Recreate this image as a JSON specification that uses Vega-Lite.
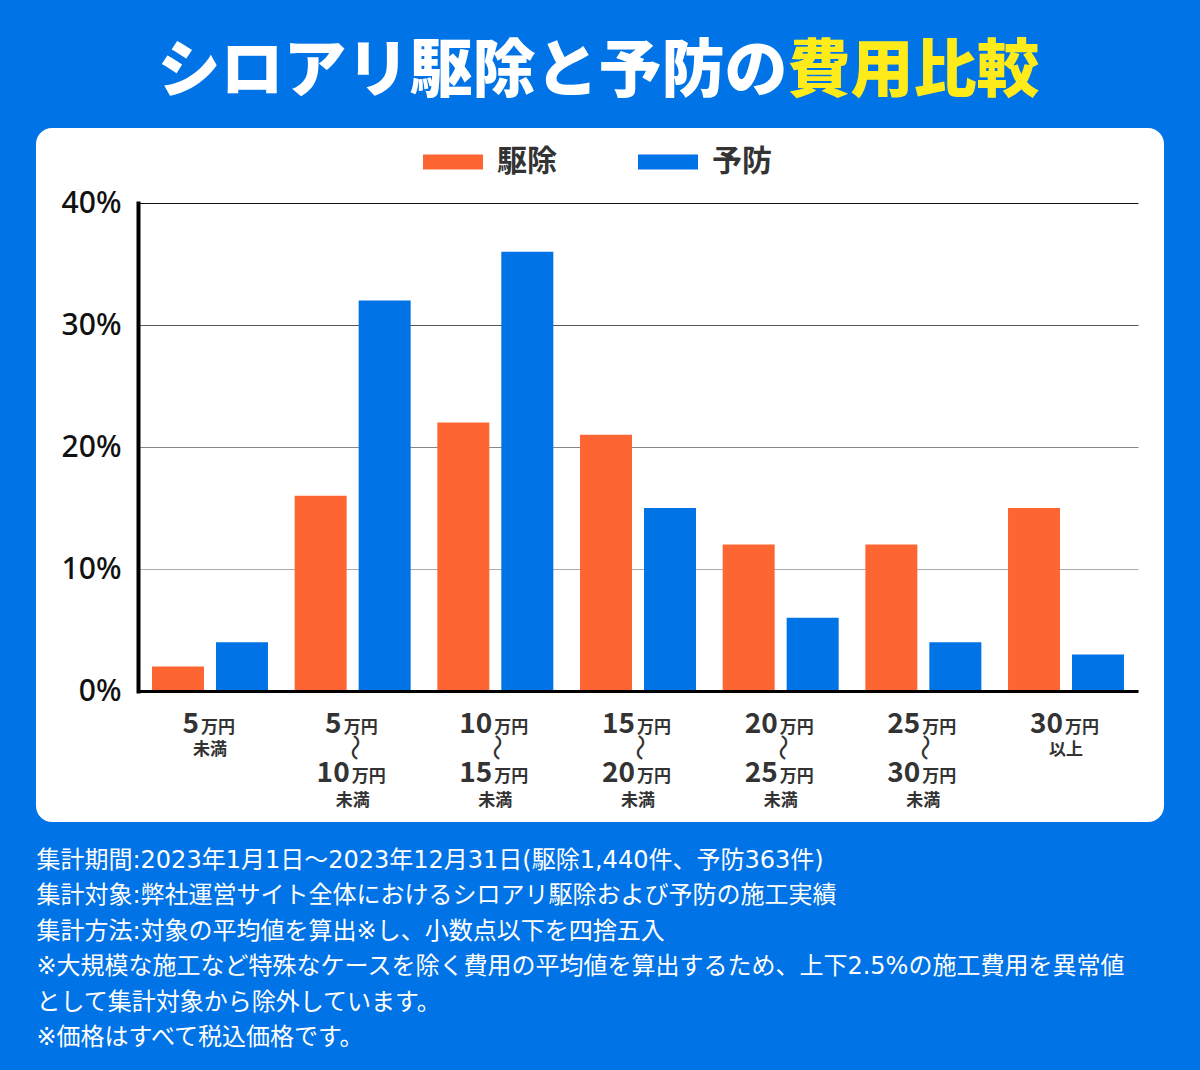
{
  "$schema": "https://vega.github.io/schema/vega-lite/v6.json",
  "width": 1128,
  "height": 694,
  "autosize": {"type": "none"},
  "padding": {"left": 36, "top": 128, "right": 36, "bottom": 248},
  "background": "#0073E6",
  "view": {"fill": "white", "stroke": null, "cornerRadius": 16},
  "data": {
    "values": [
      {"range": "5万円未満", "type": "駆除", "value": 2},
      {"range": "5万円未満", "type": "予防", "value": 4},
      {"range": "5万円〜10万円未満", "type": "駆除", "value": 16},
      {"range": "5万円〜10万円未満", "type": "予防", "value": 32},
      {"range": "10万円〜15万円未満", "type": "駆除", "value": 22},
      {"range": "10万円〜15万円未満", "type": "予防", "value": 36},
      {"range": "15万円〜20万円未満", "type": "駆除", "value": 21},
      {"range": "15万円〜20万円未満", "type": "予防", "value": 15},
      {"range": "20万円〜25万円未満", "type": "駆除", "value": 12},
      {"range": "20万円〜25万円未満", "type": "予防", "value": 6},
      {"range": "25万円〜30万円未満", "type": "駆除", "value": 12},
      {"range": "25万円〜30万円未満", "type": "予防", "value": 4},
      {"range": "30万円以上", "type": "駆除", "value": 15},
      {"range": "30万円以上", "type": "予防", "value": 3}
    ]
  },
  "layer": [
    {
      "mark": {"type": "bar"},
      "encoding": {
        "x": {
          "field": "range", "type": "nominal",
          "sort": ["5万円未満","5万円〜10万円未満","10万円〜15万円未満","15万円〜20万円未満","20万円〜25万円未満","25万円〜30万円未満","30万円以上"],
          "scale": {"type": "band", "range": [102, 1102], "paddingInner": 0.187, "paddingOuter": 0.098},
          "axis": {
            "orient": "bottom", "offset": -131, "zindex": 1,
            "domain": true, "domainColor": "#000000", "domainWidth": 3,
            "ticks": false, "tickSize": 0, "grid": false,
            "labelOverlap": false, "labelFlush": false, "labelLimit": 0, "labelAngle": 0,
            "labelExpr": "split(datum.value,'万円')[0]",
            "labelFont": "Noto Sans CJK JP", "labelFontSize": 28, "labelFontWeight": "bold", "labelColor": "#333333",
            "labelAlign": "right", "labelBaseline": "alphabetic", "labelPadding": 41,
            "labelOffset": {"condition": {"test": "length(split(datum.value,'万円')[0]) === 1", "value": -11}, "value": -3},
            "title": [
              "集計期間:2023年1月1日〜2023年12月31日(駆除1,440件、予防363件)",
              "集計対象:弊社運営サイト全体におけるシロアリ駆除および予防の施工実績",
              "集計方法:対象の平均値を算出※し、小数点以下を四捨五入",
              "※大規模な施工など特殊なケースを除く費用の平均値を算出するため、上下2.5%の施工費用を異常値",
              "として集計対象から除外しています。",
              "※価格はすべて税込価格です。"
            ],
            "titleFont": "DejaVu Sans, Noto Sans CJK JP", "titleFontSize": 24, "titleFontWeight": "normal", "titleColor": "#FFFFFF",
            "titleAnchor": "start", "titleAlign": "left", "titleBaseline": "top", "titleAngle": 0,
            "titleX": 0, "titleY": 157, "titleLineHeight": 35.5, "titleLimit": 1500
          }
        },
        "xOffset": {"field": "type", "type": "nominal", "sort": ["駆除","予防"], "scale": {"paddingInner": 0.1875, "paddingOuter": 0}},
        "y": {
          "field": "value", "type": "quantitative",
          "scale": {"domain": [0, 40], "range": [563, 75], "nice": false, "zero": true},
          "axis": {
            "orient": "left", "offset": -102, "values": [0, 10, 20, 30, 40],
            "labelExpr": "datum.value + '%'", "title": null,
            "ticks": false, "tickSize": 0,
            "domain": true, "domainColor": "#000000", "domainWidth": 4, "domainCap": "square",
            "grid": true, "gridWidth": 1,
            "gridColor": {"condition": [{"test": "datum.value >= 40", "value": "#111111"}, {"test": "datum.value >= 30", "value": "#555555"}, {"test": "datum.value >= 20", "value": "#888888"}], "value": "#aaaaaa"},
            "labelFont": "Noto Sans", "labelFontSize": 30, "labelFontWeight": 500, "labelColor": "#111111",
            "labelPadding": 17, "labelBaseline": "middle", "labelAlign": "right"
          }
        },
        "color": {
          "field": "type", "type": "nominal",
          "scale": {"domain": ["駆除", "予防"], "range": ["#FD6632", "#0073E6"]},
          "legend": {
            "orient": "none", "legendX": 387, "legendY": 4, "direction": "horizontal",
            "title": null, "padding": 0,
            "symbolType": "M-1,-0.25H1V0.25H-1Z", "symbolSize": 3600, "symbolStrokeWidth": 0, "symbolOpacity": 1,
            "labelFont": "Noto Sans CJK JP", "labelFontSize": 30, "labelFontWeight": "bold", "labelColor": "#333333",
            "labelOffset": 14, "columnPadding": 81
          }
        }
      }
    },
    {
      "mark": {"type": "bar", "opacity": 0},
      "encoding": {
        "x": {
          "field": "range", "type": "nominal",
          "sort": ["5万円未満","5万円〜10万円未満","10万円〜15万円未満","15万円〜20万円未満","20万円〜25万円未満","25万円〜30万円未満","30万円以上"],
          "axis": {
            "orient": "bottom", "offset": -131, "domain": false, "ticks": false, "tickSize": 0, "grid": false,
            "labelOverlap": false, "labelFlush": false, "labelLimit": 0, "labelAngle": 0,
            "labelExpr": "'万円'",
            "labelFont": "Noto Sans CJK JP", "labelFontSize": 17, "labelFontWeight": "bold", "labelColor": "#333333",
            "labelAlign": "left", "labelBaseline": "alphabetic", "labelPadding": 41,
            "labelOffset": {"condition": {"test": "length(split(datum.value,'万円')[0]) === 1", "value": -9}, "value": -1},
            "title": "シロアリ駆除と予防の",
            "titleFont": "Noto Sans CJK JP", "titleFontSize": 63, "titleFontWeight": 900, "titleColor": "#FFFFFF",
            "titleAlign": "left", "titleBaseline": "top", "titleAngle": 0, "titleAnchor": "start",
            "titleX": 121, "titleY": -651, "titleLimit": 2000
          }
        }
      }
    },
    {
      "mark": {"type": "bar", "opacity": 0},
      "encoding": {
        "x": {
          "field": "range", "type": "nominal",
          "sort": ["5万円未満","5万円〜10万円未満","10万円〜15万円未満","15万円〜20万円未満","20万円〜25万円未満","25万円〜30万円未満","30万円以上"],
          "axis": {
            "orient": "bottom", "offset": -131, "domain": false, "ticks": false, "tickSize": 0, "grid": false,
            "labelOverlap": false, "labelFlush": false, "labelLimit": 0, "labelAngle": 0,
            "labelExpr": "indexof(datum.value,'〜') >= 0 ? ['', '未満'] : (indexof(datum.value,'以上') >= 0 ? '以上' : '未満')",
            "labelFont": "Noto Sans CJK JP", "labelFontSize": 17, "labelFontWeight": "bold", "labelColor": "#333333",
            "labelAlign": "center", "labelBaseline": "top", "labelPadding": 50, "labelLineHeight": 51,
            "title": "費用比較",
            "titleFont": "Noto Sans CJK JP", "titleFontSize": 63, "titleFontWeight": 900, "titleColor": "#FFEB1A",
            "titleAlign": "left", "titleBaseline": "top", "titleAngle": 0, "titleAnchor": "start",
            "titleX": 751, "titleY": -651, "titleLimit": 2000
          }
        }
      }
    },
    {
      "mark": {"type": "bar", "opacity": 0},
      "encoding": {
        "x": {
          "field": "range", "type": "nominal",
          "sort": ["5万円未満","5万円〜10万円未満","10万円〜15万円未満","15万円〜20万円未満","20万円〜25万円未満","25万円〜30万円未満","30万円以上"],
          "axis": {
            "orient": "bottom", "offset": -131, "domain": false, "ticks": false, "tickSize": 0, "grid": false, "title": null,
            "labelOverlap": false, "labelFlush": false, "labelLimit": 0, "labelAngle": 90,
            "labelExpr": "indexof(datum.value,'〜') >= 0 ? '〜' : ''",
            "labelFont": "Noto Sans CJK JP", "labelFontSize": 27, "labelFontWeight": "normal", "labelColor": "#333333",
            "labelAlign": "center", "labelBaseline": "middle", "labelPadding": 56
          }
        }
      }
    },
    {
      "mark": {"type": "bar", "opacity": 0},
      "encoding": {
        "x": {
          "field": "range", "type": "nominal",
          "sort": ["5万円未満","5万円〜10万円未満","10万円〜15万円未満","15万円〜20万円未満","20万円〜25万円未満","25万円〜30万円未満","30万円以上"],
          "axis": {
            "orient": "bottom", "offset": -131, "domain": false, "ticks": false, "tickSize": 0, "grid": false, "title": null,
            "labelOverlap": false, "labelFlush": false, "labelLimit": 0, "labelAngle": 0,
            "labelExpr": "indexof(datum.value,'〜') >= 0 ? replace(split(datum.value,'万円')[1],'〜','') : ''",
            "labelFont": "Noto Sans CJK JP", "labelFontSize": 28, "labelFontWeight": "bold", "labelColor": "#333333",
            "labelAlign": "right", "labelBaseline": "alphabetic", "labelPadding": 90, "labelOffset": -3
          }
        }
      }
    },
    {
      "mark": {"type": "bar", "opacity": 0},
      "encoding": {
        "x": {
          "field": "range", "type": "nominal",
          "sort": ["5万円未満","5万円〜10万円未満","10万円〜15万円未満","15万円〜20万円未満","20万円〜25万円未満","25万円〜30万円未満","30万円以上"],
          "axis": {
            "orient": "bottom", "offset": -131, "domain": false, "ticks": false, "tickSize": 0, "grid": false, "title": null,
            "labelOverlap": false, "labelFlush": false, "labelLimit": 0, "labelAngle": 0,
            "labelExpr": "indexof(datum.value,'〜') >= 0 ? '万円' : ''",
            "labelFont": "Noto Sans CJK JP", "labelFontSize": 17, "labelFontWeight": "bold", "labelColor": "#333333",
            "labelAlign": "left", "labelBaseline": "alphabetic", "labelPadding": 90, "labelOffset": -1
          }
        }
      }
    }
  ],
  "resolve": {"axis": {"x": "independent"}}
}
